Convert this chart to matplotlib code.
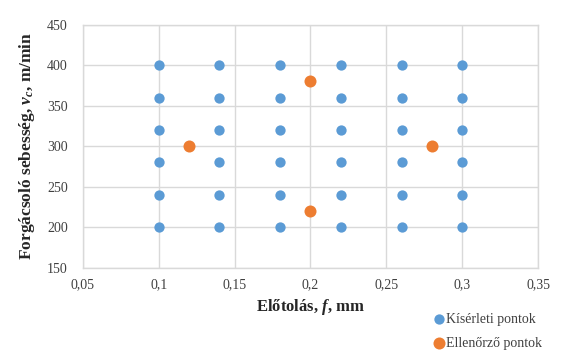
import matplotlib
matplotlib.use("Agg")
import matplotlib.pyplot as plt
from matplotlib.ticker import FuncFormatter, MultipleLocator

plt.rcParams['font.family'] = ['Liberation Serif', 'DejaVu Serif']
plt.rcParams['mathtext.fontset'] = 'custom'
plt.rcParams['mathtext.rm'] = 'Liberation Serif:bold'
plt.rcParams['mathtext.it'] = 'Liberation Serif:italic:bold'
plt.rcParams['mathtext.bf'] = 'Liberation Serif:bold'

# Data
feed_levels = [0.10, 0.14, 0.18, 0.22, 0.26, 0.30]
speed_levels = [200, 240, 280, 320, 360, 400]
check_f = [0.12, 0.20, 0.20, 0.28]
check_v = [300, 380, 220, 300]
exp_f = [f for f in feed_levels for v in speed_levels]
exp_v = [v for f in feed_levels for v in speed_levels]

fig = plt.figure(figsize=(5.64, 3.52), dpi=100)
ax = fig.add_axes([0.147, 0.240, 0.807, 0.690])

blue = '#5B9BD5'
orange = '#ED7D31'
h1 = ax.scatter(exp_f, exp_v, s=55, color=blue, zorder=3, linewidths=0, label='Kísérleti pontok')
h2 = ax.scatter(check_f, check_v, s=75, color=orange, zorder=3, linewidths=0, label='Ellenőrző pontok')

ax.set_xlim(0.05, 0.35)
ax.set_ylim(150, 450)
ax.xaxis.set_major_locator(MultipleLocator(0.05))
ax.yaxis.set_major_locator(MultipleLocator(50))

def fmt_x(x, pos):
    s = ('%.2f' % x).rstrip('0').rstrip('.')
    return s.replace('.', ',')
ax.xaxis.set_major_formatter(FuncFormatter(fmt_x))

ax.grid(True, color='#D9D9D9', linewidth=1.0, zorder=0)
ax.set_axisbelow(True)
for sp in ax.spines.values():
    sp.set_color('#D9D9D9')
    sp.set_linewidth(1.0)
ax.tick_params(length=0, labelsize=10, colors='#404040')
ax.tick_params(axis='x', pad=8)
ax.tick_params(axis='y', pad=11)

ax.set_xlabel(r'Előtolás, $f$, mm', fontsize=12, fontweight='bold', color='#262626', labelpad=4)
ax.set_ylabel(r'Forgácsoló sebesség, $v_c$, m/min', fontsize=12.5, fontweight='bold', color='#262626', labelpad=7)

fig.legend(handles=[h1, h2], loc='upper left', bbox_to_anchor=(0.766, 0.111),
           frameon=False, fontsize=10, handletextpad=0.0, labelspacing=0.8,
           borderaxespad=0, borderpad=0, handlelength=1.0, labelcolor='#404040')

fig.savefig('out.png', dpi=100)
